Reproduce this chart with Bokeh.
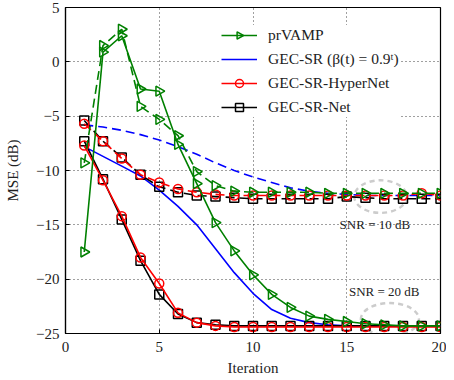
from bokeh.plotting import figure
from bokeh.models import Range1d, Legend, LegendItem, CustomJS
from bokeh.core.properties import value
from bokeh.embed import file_html
from bokeh.resources import INLINE

iters = list(range(1, 21))

prvamp_10 = [-9.3, 1.5, 3.0, -4.1, -5.3, -6.8, -10.1, -11.4, -11.9, -12.0,
             -12.0, -12.0, -12.0, -12.1, -12.1, -12.1, -12.1, -12.1, -12.1, -12.1]
prvamp_20 = [-17.5, 0.9, 2.4, -2.5, -2.7, -7.6, -11.2, -14.8, -17.4, -19.6,
             -21.4, -22.6, -23.4, -23.7, -23.9, -24.1, -24.2, -24.3, -24.3, -24.3]
gec_10 = [-5.8, -6.0, -6.3, -6.7, -7.2, -7.8, -8.5, -9.3, -10.0, -10.6,
          -11.1, -11.6, -11.9, -12.1, -12.2, -12.3, -12.3, -12.3, -12.3, -12.3]
gec_20 = [-7.8, -8.7, -9.6, -10.5, -11.8, -13.3, -15.0, -17.2, -19.4, -21.3,
          -22.8, -23.6, -24.0, -24.2, -24.3, -24.3, -24.3, -24.3, -24.3, -24.3]
hyper_10 = [-5.7, -7.3, -8.9, -10.4, -11.1, -11.7, -12.0, -12.2, -12.3, -12.3,
            -12.3, -12.3, -12.3, -12.3, -12.3, -12.3, -12.3, -12.3, -12.1, -12.3]
hyper_20 = [-7.7, -10.9, -14.2, -18.0, -20.4, -23.1, -24.0, -24.3, -24.4, -24.4,
            -24.4, -24.4, -24.4, -24.4, -24.4, -24.4, -24.4, -24.4, -24.4, -24.4]
net_10 = [-5.4, -7.3, -8.8, -10.4, -11.5, -12.0, -12.3, -12.4, -12.5, -12.6,
          -12.6, -12.6, -12.6, -12.6, -12.4, -12.5, -12.6, -12.6, -12.6, -12.6]
net_20 = [-7.3, -10.8, -14.5, -18.3, -21.4, -23.2, -24.0, -24.2, -24.3, -24.3,
          -24.3, -24.3, -24.3, -24.3, -24.3, -24.3, -24.3, -24.3, -24.3, -24.3]

x_ticks = [0, 5, 10, 15, 20]
y_ticks = [-25, -20, -15, -10, -5, 0, 5]

snr_text = ["SNR = 10 dB", "SNR = 20 dB"]
snr_x = [16.5, 17.0]
snr_y = [-15.0, -21.1]
ell_x = [16.8, 17.3]
ell_y = [-12.4, -23.7]
ell_w = [2.8, 3.1]
ell_h = [3.0, 3.0]

SERIF = "Liberation Serif"

# right-pointing triangle marker (also used by the legend)
TRI_RIGHT = {"@tri_right": CustomJS(code="""
export default (args, obj, {ctx, i, r, visuals}) => {
  const h = 0.87 * r
  ctx.beginPath()
  ctx.moveTo(r, 0)
  ctx.lineTo(-0.6 * r, -h * 1.05)
  ctx.lineTo(-0.6 * r, h * 1.05)
  ctx.closePath()
  if (visuals.fill.doit) { visuals.fill.set_vectorize(ctx, i); ctx.fill() }
  if (visuals.line.doit) { visuals.line.set_vectorize(ctx, i); ctx.stroke() }
}
""")}

p = figure(width=446, height=378, x_range=Range1d(0, 20), y_range=Range1d(-25, 5),
           output_backend="svg", toolbar_location=None,
           min_border_left=65, min_border_right=6, min_border_top=7, min_border_bottom=45)
p.background_fill_color = "white"
p.outline_line_color = "black"
p.outline_line_width = 1.2

p.xaxis.ticker = x_ticks
p.yaxis.ticker = y_ticks
for ax in (p.xaxis[0], p.yaxis[0]):
    ax.major_tick_in = 4
    ax.major_tick_out = 0
    ax.minor_tick_line_color = None
    ax.axis_line_color = "black"
    ax.axis_line_width = 1.2
    ax.major_label_text_font = SERIF
    ax.major_label_text_font_size = "15px"
    ax.major_label_text_color = "#222222"
    ax.axis_label_text_font = SERIF
    ax.axis_label_text_font_size = "15px"
    ax.axis_label_text_font_style = "normal"
    ax.axis_label_text_color = "#222222"
p.xaxis.axis_label = "Iteration"
p.yaxis.axis_label = "MSE (dB)"
p.xaxis.major_label_standoff = 8
p.xaxis.axis_label_standoff = 5
p.yaxis.major_label_standoff = 6
p.yaxis.axis_label_standoff = 12

p.grid.grid_line_color = "black"
p.grid.grid_line_dash = "1 3"
p.grid.grid_line_alpha = 0.75

GREEN = "#008000"
BLUE = "#0000ff"
RED = "#ff0000"
BLACK = "#000000"
DASH = "9 5"
LW = 1.6

# ellipses
p.ellipse(x=ell_x, y=ell_y, width=ell_w, height=ell_h, fill_color=None,
          line_color="#cccccc", line_width=2.4, line_dash="5 4")

# GEC-SR
p.line(iters, gec_10, line_color=BLUE, line_width=LW, line_dash=DASH)
r_gec = p.line(iters, gec_20, line_color=BLUE, line_width=LW)

# GEC-SR-Net
p.line(iters, net_10, line_color=BLACK, line_width=LW, line_dash=DASH)
p.scatter(iters, net_10, marker="square", size=9, fill_color=None, line_color=BLACK, line_width=1.5)
r_net_l = p.line(iters, net_20, line_color=BLACK, line_width=LW)
r_net_m = p.scatter(iters, net_20, marker="square", size=9, fill_color=None, line_color=BLACK, line_width=1.5)

# GEC-SR-HyperNet
p.line(iters, hyper_10, line_color=RED, line_width=LW, line_dash=DASH)
p.scatter(iters, hyper_10, marker="circle", size=9, fill_color=None, line_color=RED, line_width=1.5)
r_hyp_l = p.line(iters, hyper_20, line_color=RED, line_width=LW)
r_hyp_m = p.scatter(iters, hyper_20, marker="circle", size=9, fill_color=None, line_color=RED, line_width=1.5)

# prVAMP
p.line(iters, prvamp_10, line_color=GREEN, line_width=LW, line_dash=DASH)
p.scatter(iters, prvamp_10, marker="@tri_right", defs=TRI_RIGHT, size=11, fill_color=None,
          line_color=GREEN, line_width=1.5)
r_pr_l = p.line(iters, prvamp_20, line_color=GREEN, line_width=LW)
r_pr_m = p.scatter(iters, prvamp_20, marker="@tri_right", defs=TRI_RIGHT, size=11, fill_color=None,
                   line_color=GREEN, line_width=1.5)

p.text(x=snr_x, y=snr_y, text=snr_text, text_font=value(SERIF), text_font_size="13px",
       text_align="center", text_baseline="middle", text_color="#222222")

legend = Legend(items=[
    LegendItem(label="prVAMP", renderers=[r_pr_l, r_pr_m]),
    LegendItem(label="GEC-SR (\u03b2(t) = 0.9\u1d57)", renderers=[r_gec]),
    LegendItem(label="GEC-SR-HyperNet", renderers=[r_hyp_l, r_hyp_m]),
    LegendItem(label="GEC-SR-Net", renderers=[r_net_l, r_net_m]),
], location=(156, 216))
legend.label_text_font = SERIF
legend.label_text_font_size = "15.5px"
legend.label_text_color = "#222222"
legend.border_line_color = None
legend.background_fill_color = "white"
legend.background_fill_alpha = 1.0
legend.glyph_width = 36
legend.label_height = 20
legend.glyph_height = 20
legend.spacing = 4
legend.padding = 4
legend.margin = 0
legend.label_standoff = 11
p.add_layout(legend, "center")

open("out.html", "w").write(file_html(p, INLINE))
